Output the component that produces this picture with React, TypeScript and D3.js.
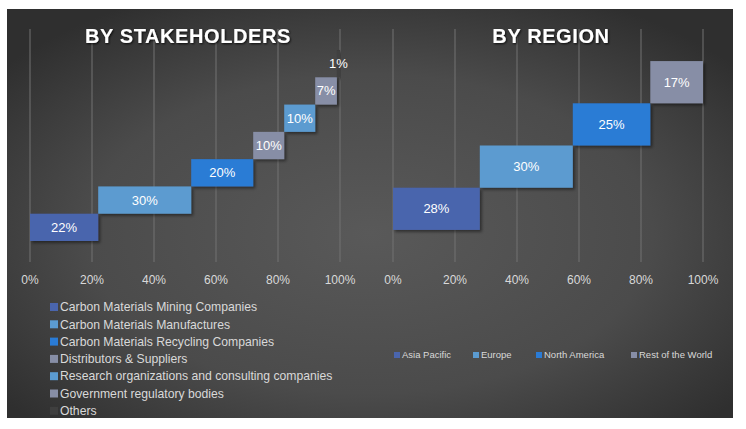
import React from 'react';
import * as d3 from 'd3';

const stakeholderCategories = [
  'Carbon Materials Mining Companies',
  'Carbon Materials Manufactures',
  'Carbon Materials Recycling Companies',
  'Distributors & Suppliers',
  'Research organizations and consulting companies',
  'Government regulatory bodies',
  'Others',
];
const stakeholderValues = [22, 30, 20, 10, 10, 7, 1];
const stakeholderColors = ['#4a65ad', '#5b9bd0', '#2a7bd5', '#878ea6', '#5b9bd0', '#878ea6', '#3f3f3f'];

const regionCategories = ['Asia Pacific', 'Europe', 'North America', 'Rest of the World'];
const regionValues = [28, 30, 25, 17];
const regionColors = ['#4a65ad', '#5b9bd0', '#2a7bd5', '#878ea6'];

const tickValues = [0, 20, 40, 60, 80, 100];

const W = 746;
const H = 429;
const font = '"Liberation Sans", Arial, sans-serif';

type PanelProps = {
  title: string;
  cats: string[];
  values: number[];
  colors: string[];
  x0: number;
  x1: number;
  outer: number;
};

function StepPanel({ title, cats, values, colors, x0, x1, outer }: PanelProps) {
  const plotTop = 29;
  const plotBottom = 262;
  const x = d3.scaleLinear().domain([0, 100]).range([x0, x1]);
  const y = d3.scaleBand<string>()
    .domain(cats)
    .range([plotBottom, plotTop])
    .paddingInner(0)
    .paddingOuter(outer);
  const starts = [0, ...Array.from(d3.cumsum(values))].slice(0, values.length);
  const bw = y.bandwidth();

  return (
    <g>
      {tickValues.map(t => (
        <g key={t}>
          <line x1={x(t)} x2={x(t)} y1={plotTop} y2={plotBottom} stroke="#727272" strokeWidth={1} />
          <text x={x(t)} y={284} textAnchor="middle" fontSize={12} fill="#d9d9d9" fontFamily={font}>{t}%</text>
        </g>
      ))}
      <text x={(x0 + x1) / 2 + 3} y={43} textAnchor="middle" fontSize={20} fontWeight="bold"
        letterSpacing={0.6} fill="#ffffff" fontFamily={font} filter="url(#tshadow)">{title}</text>
      {cats.map((c, i) => {
        const bx = x(starts[i]);
        const bwid = x(starts[i] + values[i]) - bx;
        const by = y(c) as number;
        return (
          <g key={c}>
            <rect x={bx} y={by} width={bwid} height={bw} fill={colors[i]} filter="url(#bshadow)" />
            <text x={bx + bwid / 2} y={by + bw / 2} dy="0.35em" textAnchor="middle" fontSize={13}
              fill="#ffffff" fontFamily={font}>{values[i]}%</text>
          </g>
        );
      })}
    </g>
  );
}

export default function App() {
  return (
    <div style={{ width: W, height: H, background: '#ffffff' }}>
      <style>{`body{margin:0}`}</style>
      <svg width={W} height={H} style={{ display: 'block' }}>
        <defs>
          <radialGradient id="bg" cx="50%" cy="55%" r="65%">
            <stop offset="0%" stopColor="#595959" />
            <stop offset="60%" stopColor="#4b4b4b" />
            <stop offset="100%" stopColor="#2f2f2f" />
          </radialGradient>
          <filter id="bshadow" x="-10%" y="-10%" width="130%" height="140%">
            <feDropShadow dx={2} dy={2} stdDeviation={1.5} floodColor="#000" floodOpacity={0.45} />
          </filter>
          <filter id="tshadow" x="-10%" y="-30%" width="120%" height="160%">
            <feDropShadow dx={1} dy={1} stdDeviation={1.2} floodColor="#000" floodOpacity={0.8} />
          </filter>
        </defs>
        <rect x={7} y={9} width={726} height={409} fill="url(#bg)" />

        <StepPanel title="BY STAKEHOLDERS" cats={stakeholderCategories} values={stakeholderValues}
          colors={stakeholderColors} x0={30} x1={340} outer={0.77} />
        <StepPanel title="BY REGION" cats={regionCategories} values={regionValues}
          colors={regionColors} x0={393} x1={703} outer={0.76} />

        <g>
          {stakeholderCategories.map((c, i) => (
            <g key={c} transform={`translate(50, ${307 + i * 17.3})`}>
              <rect x={0} y={-4} width={8} height={8} fill={stakeholderColors[i]} />
              <text x={10} y={0} dy="0.35em" fontSize={12.2} fill="#d9d9d9" fontFamily={font}>{c}</text>
            </g>
          ))}
        </g>
        <g>
          {regionCategories.map((c, i) => {
            const xs = [394, 473, 536, 631];
            return (
              <g key={c} transform={`translate(${xs[i]}, 355)`}>
                <rect x={0} y={-3} width={6} height={6} fill={regionColors[i]} />
                <text x={8} y={0} dy="0.35em" fontSize={9.5} fill="#d9d9d9" fontFamily={font}>{c}</text>
              </g>
            );
          })}
        </g>
      </svg>
    </div>
  );
}
